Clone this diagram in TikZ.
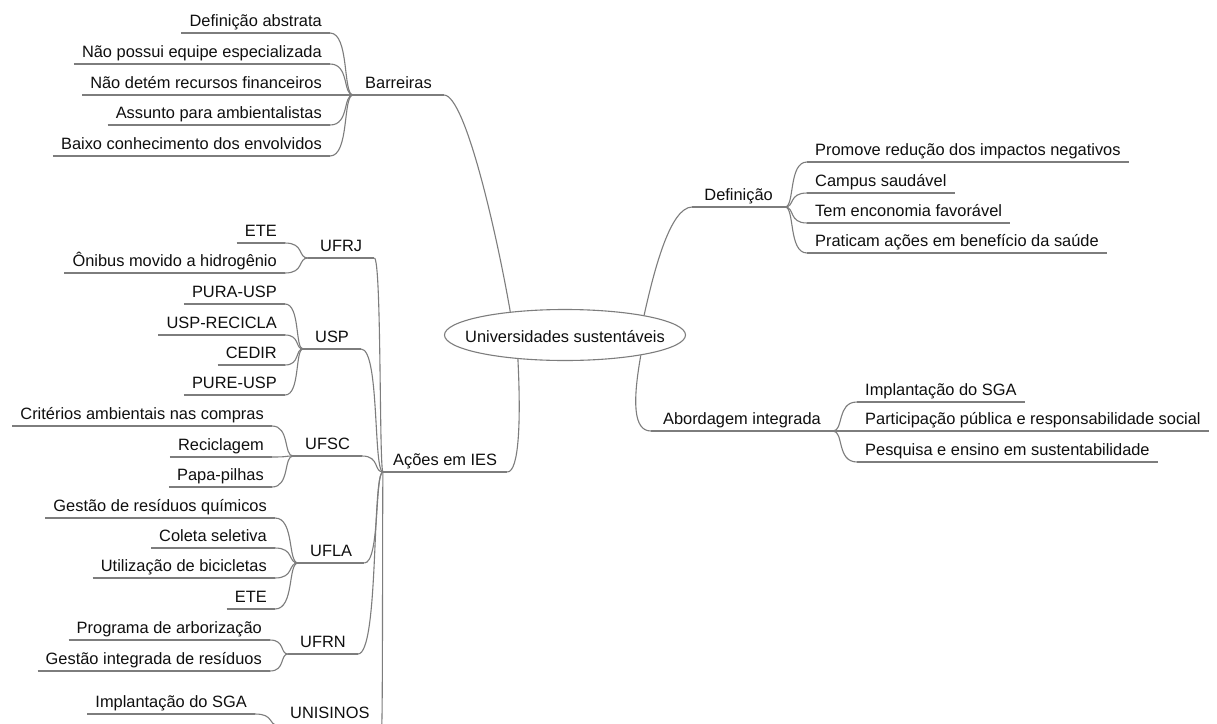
\documentclass[tikz,border=0pt]{standalone}
\usepackage{fontspec}
\setmainfont{Liberation Sans}
\usetikzlibrary{shapes.geometric,calc}
\definecolor{lnc}{RGB}{125,125,125}
\definecolor{txc}{RGB}{15,15,15}
\tikzset{
  conn/.style={draw=lnc,line width=1.1pt},
  base/.style={inner ysep=2pt,text height=12pt,text depth=4pt,text=txc,
    font=\fontsize{16.4}{19}\selectfont,
    append after command={(\tikzlastnode.south west) edge[conn] (\tikzlastnode.south east)}},
  leafL/.style={base,anchor=south east,inner xsep=8pt},
  leafR/.style={base,anchor=south west,inner xsep=8pt},
  grpL/.style={base,anchor=south west,inner xsep=12pt},
  grpR/.style={base,anchor=south east,inner xsep=12pt},
  hub/.style={ellipse,draw=lnc,line width=1.1pt,minimum width=241pt,minimum height=51pt,
    inner sep=0pt},
  hubtext/.style={text=txc,font=\fontsize{16.4}{19}\selectfont,inner sep=0pt}
}
\newcommand\mmlink[2]{\draw[conn] let \p1=(#1), \p2=(#2) in (\p1) .. controls ({\x1+0.85*(\x2-\x1)},\y1) and ({\x1+0.55*(\x2-\x1)},\y2) .. (\p2);}
\begin{document}
\begin{tikzpicture}[x=1pt,y=-1pt]
\useasboundingbox (0,0) rectangle (1217,723);
\clip (0,0) rectangle (1217,723);
\fill[white] (0,0) rectangle (1217,723);
% center
\node[hub] (c) at (565,335) {};
\node[hubtext] (ct) at (565,337) {Universidades sustentáveis};
% Barreiras
\node[grpL] (barr) at (353,95) {Barreiras};
\node[leafL] (b1) at (330,33) {Definição abstrata};
\node[leafL] (b2) at (330,64) {Não possui equipe especializada};
\node[leafL] (b3) at (330,95) {Não detém recursos financeiros};
\node[leafL] (b4) at (330,125) {Assunto para ambientalistas};
\node[leafL] (b5) at (330,156) {Baixo conhecimento dos envolvidos};
\foreach \nd in {b1,b2,b3,b4,b5} {\mmlink{\nd.south east}{barr.south west}}
\draw[conn] (barr.south east) .. controls +(22,0) and +(-12,-70) .. (c.157);
% Definicao
\node[grpR] (def) at (785,207) {Definição};
\node[leafR] (d1) at (807,162) {Promove redução dos impactos negativos};
\node[leafR] (d2) at (807,193) {Campus saudável};
\node[leafR] (d3) at (807,223) {Tem enconomia favorável};
\node[leafR] (d4) at (807,253) {Praticam ações em benefício da saúde};
\foreach \nd in {d1,d2,d3,d4} {\mmlink{\nd.south west}{def.south east}}
\draw[conn] (c.14) .. controls +(10,-45) and +(-22,0) .. (def.south west);
% Abordagem
\node[grpR] (abo) at (833,431) {Abordagem integrada};
\node[leafR] (a1) at (857,402) {Implantação do SGA};
\node[leafR] (a2) at (857,431) {Participação pública e responsabilidade social};
\node[leafR] (a3) at (857,462) {Pesquisa e ensino em sustentabilidade};
\foreach \nd in {a1,a2,a3} {\mmlink{\nd.south west}{abo.south east}}
\draw[conn] (c.-15) .. controls +(-8,45) and +(-18,0) .. (abo.south west);
% Acoes em IES
\node[grpL,inner xsep=10pt] (acoes) at (383,472) {Ações em IES};
\draw[conn] (c.207) .. controls +(3,60) and +(12,0) .. (acoes.south east);
% UFRJ
\node[grpL] (ufrj) at (308,258) {UFRJ};
\node[leafL] (r1) at (285,243) {ETE};
\node[leafL] (r2) at (285,273) {Ônibus movido a hidrogênio};
\foreach \nd in {r1,r2} {\mmlink{\nd.south east}{ufrj.south west}}
% USP
\node[grpL] (usp) at (303,349) {USP};
\node[leafL] (u1) at (285,304) {PURA-USP};
\node[leafL] (u2) at (285,335) {USP-RECICLA};
\node[leafL] (u3) at (285,365) {CEDIR};
\node[leafL] (u4) at (285,395) {PURE-USP};
\foreach \nd in {u1,u2,u3,u4} {\mmlink{\nd.south east}{usp.south west}}
% UFSC
\node[grpL] (ufsc) at (293,456) {UFSC};
\node[leafL] (s1) at (272,426) {Critérios ambientais nas compras};
\node[leafL] (s2) at (272,457) {Reciclagem};
\node[leafL] (s3) at (272,487) {Papa-pilhas};
\foreach \nd in {s1,s2,s3} {\mmlink{\nd.south east}{ufsc.south west}}
% UFLA
\node[grpL] (ufla) at (298,563) {UFLA};
\node[leafL] (l1) at (275,518) {Gestão de resíduos químicos};
\node[leafL] (l2) at (275,548) {Coleta seletiva};
\node[leafL] (l3) at (275,578) {Utilização de bicicletas};
\node[leafL] (l4) at (275,609) {ETE};
\foreach \nd in {l1,l2,l3,l4} {\mmlink{\nd.south east}{ufla.south west}}
% UFRN
\node[grpL] (ufrn) at (288,654) {UFRN};
\node[leafL] (n1) at (270,640) {Programa de arborização};
\node[leafL] (n2) at (270,671) {Gestão integrada de resíduos};
\foreach \nd in {n1,n2} {\mmlink{\nd.south east}{ufrn.south west}}
% UNISINOS
\node[grpL] (unis) at (278,725) {UNISINOS};
\node[leafL] (i1) at (255,714) {Implantação do SGA};
\mmlink{i1.south east}{unis.south west}
% groups to hub
\foreach \nd in {ufrj,usp,ufsc,ufla,ufrn,unis} {\mmlink{\nd.south east}{acoes.south west}}
\end{tikzpicture}
\end{document}
